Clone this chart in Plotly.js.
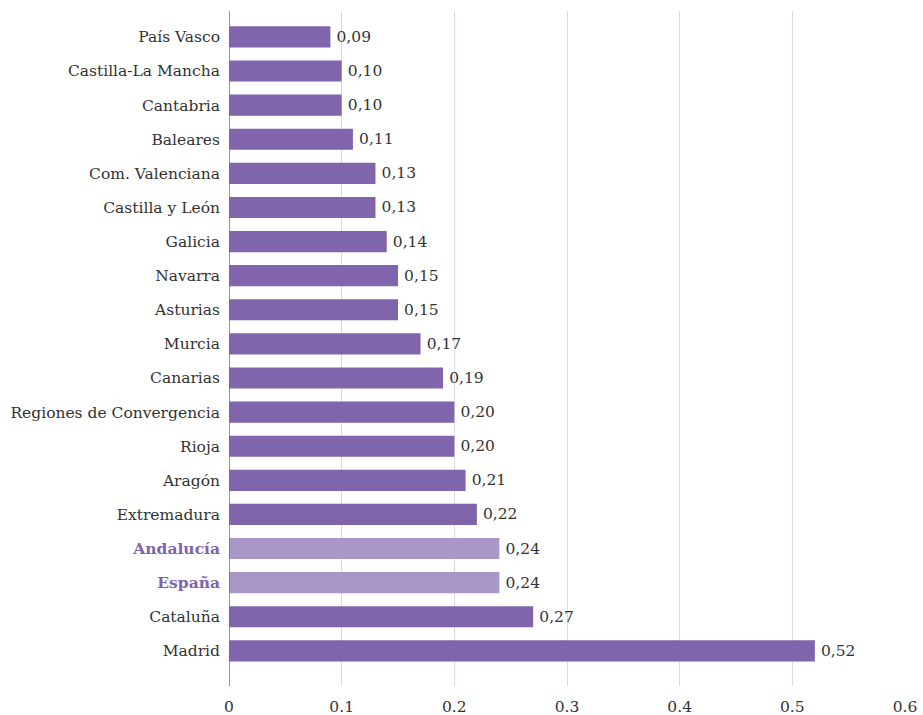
<!DOCTYPE html>
<html>
<head>
<meta charset="utf-8">
<script src="https://cdn.plot.ly/plotly-3.0.1.min.js"></script>
<style>html,body{margin:0;padding:0;background:#fff;}#chart{width:923px;height:715px;}</style>
</head>
<body>
<div id="chart"></div>
<script>
// Bottom to top
const regions = ["Madrid","Cataluña","España","Andalucía","Extremadura","Aragón","Rioja","Regiones de Convergencia","Canarias","Murcia","Asturias","Navarra","Galicia","Castilla y León","Com. Valenciana","Baleares","Cantabria","Castilla-La Mancha","País Vasco"];
const values = [0.52,0.27,0.24,0.24,0.22,0.21,0.20,0.20,0.19,0.17,0.15,0.15,0.14,0.13,0.13,0.11,0.10,0.10,0.09];
const highlighted = ["España","Andalucía"];
const xTicks = [0,0.1,0.2,0.3,0.4,0.5,0.6];

const dark = "#8064ac", light = "#aa97c9";
const colors = regions.map(r => highlighted.includes(r) ? light : dark);
const labels = values.map(v => "\u2009" + v.toFixed(2).replace(".", ","));
const ticktext = regions.map(r => highlighted.includes(r) ? '<b><span style="color:' + dark + '">' + r + '</span></b>' : r);

Plotly.newPlot("chart", [{
  type: "bar", orientation: "h",
  x: values, y: regions,
  marker: {color: colors},
  text: labels, textposition: "outside", cliponaxis: false,
  textfont: {family: "DejaVu Serif", size: 15.5, color: "#333"},
  hoverinfo: "none"
}], {
  width: 923, height: 715,
  margin: {l: 229, r: 18, t: 11, b: 29},
  paper_bgcolor: "#fff", plot_bgcolor: "#fff",
  bargap: 0.38,
  showlegend: false,
  font: {family: "DejaVu Serif", size: 15.5, color: "#333"},
  xaxis: {range: [0, 0.6], tickvals: xTicks, ticktext: xTicks.map(String),
          showgrid: true, gridcolor: "#ddd7ea", gridwidth: 1, zeroline: false,
          showline: false, ticks: "", tickfont: {size: 15.5, color: "#333"}, ticklabelstandoff: 9},
  yaxis: {type: "category", range: [-1.03, 18.76], tickvals: regions, ticktext: ticktext,
          showgrid: false, zeroline: false, showline: false, ticks: "",
          tickfont: {size: 15.5, color: "#333"}, ticklabelstandoff: 8},
  shapes: [{type: "line", xref: "x", yref: "paper", x0: 0, x1: 0, y0: 0, y1: 1,
            line: {color: dark, width: 1.5}}]
}, {displayModeBar: false, staticPlot: true});
</script>
</body>
</html>
